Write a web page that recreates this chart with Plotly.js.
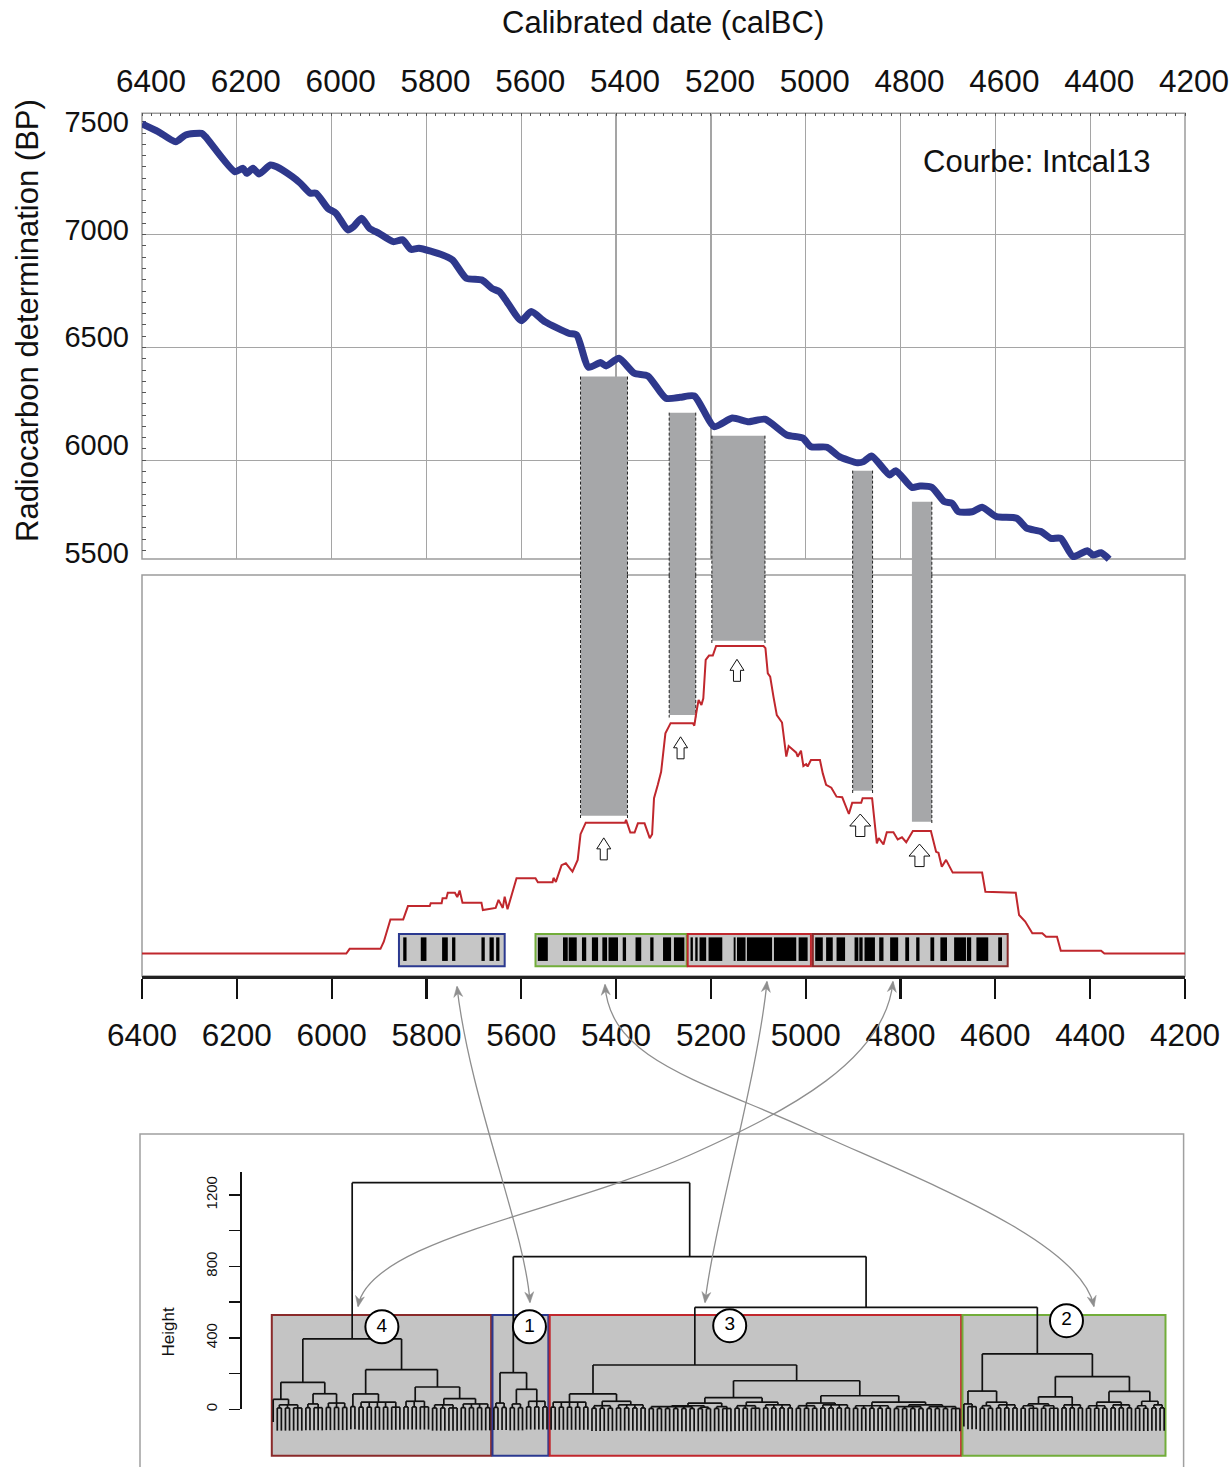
<!DOCTYPE html>
<html><head><meta charset="utf-8">
<script src="https://cdn.plot.ly/plotly-3.0.1.min.js"></script>
<style>html,body{margin:0;padding:0;background:#fff}#chart{width:1232px;height:1467px}</style>
</head><body><div id="chart"></div>
<script>
// ---------------- DATA ----------------
// Calibration curve IntCal13 (calBC year, 14C BP)
const calYear = [6400,6366,6329,6308,6274,6266,6204,6187,6179,6166,6153,6129,6116,6083,6066,6045,6033,6008,5991,5966,5954,5937,5920,5900,5870,5850,5833,5816,5766,5745,5716,5683,5662,5646,5633,5600,5579,5550,5500,5483,5458,5433,5421,5394,5362,5333,5295,5265,5235,5193,5155,5120,5086,5040,5006,4989,4955,4929,4891,4878,4861,4823,4810,4776,4759,4734,4708,4691,4678,4649,4628,4598,4555,4534,4504,4483,4462,4436,4406,4394,4377,4360];
const calBP = [7491,7457,7412,7442,7449,7434,7279,7294,7272,7294,7269,7309,7301,7257,7228,7184,7184,7117,7095,7021,7035,7073,7028,7006,6969,6977,6935,6940,6910,6888,6807,6799,6762,6747,6711,6619,6659,6614,6563,6555,6412,6433,6418,6452,6386,6374,6275,6279,6285,6149,6187,6171,6182,6112,6098,6060,6058,6016,5989,5994,6019,5935,5954,5880,5886,5880,5817,5809,5772,5772,5792,5750,5743,5699,5684,5654,5654,5573,5599,5580,5590,5561];

// Summed probability (relative units)
const densYear = [6400,5969,5962,5897,5890,5876,5849,5839,5793,5791,5768,5766,5758,5755,5740,5735,5730,5724,5684,5681,5654,5648,5639,5635,5629,5610,5570,5565,5534,5532,5527,5515,5506,5492,5481,5475,5464,5381,5379,5370,5361,5354,5340,5329,5324,5320,5312,5305,5296,5285,5238,5235,5231,5226,5220,5216,5211,5204,5196,5189,5089,5085,5080,5075,5068,5061,5050,5041,5036,5027,5020,5017,5010,5005,4999,4996,4989,4970,4964,4957,4946,4935,4923,4909,4902,4883,4880,4860,4850,4846,4836,4829,4815,4806,4797,4788,4774,4736,4725,4720,4713,4704,4690,4628,4621,4557,4550,4537,4522,4501,4493,4470,4462,4377,4370,4200];
const densValue = [0,0,15,15,38,110,110,153,153,162,162,178,178,196,196,182,203,164,164,140,147,173,147,183,143,243,243,230,230,244,231,285,291,264,302,385,422,422,431,390,390,420,420,372,385,501,544,586,710,743,743,735,775,818,802,823,947,961,961,992,992,985,904,893,828,769,745,635,669,656,648,635,654,605,611,603,624,624,581,544,535,506,504,450,486,486,501,501,355,372,352,391,391,368,375,359,395,395,328,325,280,302,261,261,199,196,124,103,65,65,54,54,9,9,0,0];

// Plateaux (grey bands): calBC start/end, top on curve (BP), bottom on density
const barStart = [5475,5288,5198,4901,4776];
const barEnd = [5376,5232,5086,4859,4734];
const barTopBP = [6371,6211,6109,5954,5816];
const barBottom = [444,769,1009,525,425];
const barDashLeft = [true,true,true,true,false];

// Up arrows under plateaux
const arrowYear = [5426,5264,5145,4885,4760];
const arrowTip = [373,699,949,450,353];
const arrowBig = [false,false,false,true,true];

// Cluster boxes (calBC)
const clusterNames = ['1','2','3','4'];
const boxStart = [5858,5570,5249,4985];
const boxEnd = [5635,5251,4989,4574];
const boxColor = ['#2b3990','#72ad3a','#c1272d','#8a2a2a'];
// Individual date ranges in each cluster (calBC start, end)
const dates1 = [[5849,5842],[5812,5800],[5767,5755],[5746,5739],[5684,5677],[5667,5658],[5653,5646]];
const dates2 = [[5565,5544],[5512,5502],[5500,5483],[5472,5463],[5451,5438],[5429,5419],[5416,5396],[5386,5379],[5359,5347],[5328,5321],[5301,5284],[5278,5256]];
const dates3 = [[5243,5238],[5233,5228],[5224,5210],[5205,5176],[5152,5148],[5145,5127],[5124,5071],[5067,5020],[5015,4996]];
const dates4 = [[4980,4964],[4957,4943],[4935,4917],[4897,4889],[4887,4880],[4876,4854],[4845,4836],[4822,4805],[4790,4782],[4767,4760],[4737,4729],[4716,4702],[4687,4662],[4660,4651],[4640,4615],[4594,4586]];

// Dendrogram: nodes {h, c:[...]} ; leaf groups {n, h}
const C = (n,h) => ({n:n, h:h});
const N = (h, ...c) => ({h:h, c:c});
const dendCluster4 = N(394, N(151, N(56, C(1,0), C(7,25)), N(87, C(5,30), C(6,35))), N(222, N(86, C(2,15), C(11,40)), N(125, C(7,45), N(60, C(7,25), C(8,30)))));
const dendCluster1 = N(205, C(4,35), N(112, C(4,30), C(6,45)));
const dendCluster3 = N(248, N(86, C(10,40), N(45, C(6,20), C(8,25))), N(160, N(65, N(35, N(20, C(12,15), C(4,12)), C(5,15)), N(40, C(7,20), C(8,25))), N(76, N(35, C(6,20), C(8,25)), N(40, C(10,20), N(25, C(8,15), C(9,15))))));
const dendCluster2 = N(310, N(102, N(30, C(1,0), C(3,15)), N(40, C(4,20), C(6,25))), N(183, N(70, N(30, C(5,20), C(5,20)), C(6,25)), N(100, N(40, C(6,20), C(6,25)), N(45, C(4,20), C(4,25)))));
const dendTree = N(1269, dendCluster4, N(855, dendCluster1, N(571, dendCluster3, dendCluster2)));
const dendOrderLabels = ['4','1','3','2'];
const dendOrderSizes = [54,14,101,50];
const dendOrderColors = ['#8a2a2a','#2b3990','#c1272d','#72ad3a'];
const dendRectTop = 528, dendRectBottom = -260;
const dendLabelX = [27.6, 63.7, 112.7, 195.1];
const dendLabelY = [462, 462, 468, 496];
const heightTicks = [0,200,400,600,800,1000,1200];
const heightTickText = ['0','','400','','800','','1200'];
const dateTicks = [6400,6200,6000,5800,5600,5400,5200,5000,4800,4600,4400,4200];
const bpTicks = [5500,6000,6500,7000,7500];

// ---------------- GEOMETRY ----------------
const W = 1232, H = 1467;
const fx = p => p / W, fy = p => 1 - p / H;
const FONT = 'Liberation Sans, Arial, Helvetica, sans-serif';
const PXBP = 0.2256, TOPBP = 7538;
const yGridBot = TOPBP - (559 - 113.3) / PXBP;
const y4Bot = TOPBP - (575 - 113.3) / PXBP;
const Y2BOT = -72.6, Y2TOP = 1221;
const leafPx = 4.087, leafPx0 = 271.8;
const idx = p => (p - leafPx0) / leafPx + 0.66;
const PXH = 0.17858, H0PX = 1409.3;
const hAt = p => (H0PX - p) / PXH;

const traces = [];
const dummy = (xa, ya, x, y) => ({type:'scatter', x:[x], y:[y], xaxis:xa, yaxis:ya, mode:'markers', marker:{opacity:0,size:1}, hoverinfo:'skip', showlegend:false});
traces.push(dummy('x','y',5000,6500));
traces.push(dummy('x','y3',5000,6500));
traces.push(dummy('x5','y6',100,100));

// grey bars: top piece (curve axis) and bottom piece (density axis)
const mid = barStart.map((s,i)=>(s+barEnd[i])/2);
const wid = barStart.map((s,i)=>s-barEnd[i]);
traces.push({type:'bar', xaxis:'x4', yaxis:'y4', x:mid, width:wid, base:barTopBP.map(()=>y4Bot), y:barTopBP.map(t=>t-y4Bot), marker:{color:'#a6a7a9', line:{width:0}}, hoverinfo:'skip', showlegend:false});
traces.push({type:'bar', xaxis:'x2', yaxis:'y2', x:mid, width:wid, base:barBottom, y:barBottom.map(b=>Y2TOP-b), marker:{color:'#a6a7a9', line:{width:0}}, hoverinfo:'skip', showlegend:false});
// dashed edges
const dxT=[],dyT=[],dxB=[],dyB=[];
barStart.forEach((s,i)=>{
  const edges = barDashLeft[i] ? [s, barEnd[i]] : [barEnd[i]];
  edges.forEach(e=>{ dxT.push(e,e,null); dyT.push(barTopBP[i],y4Bot,null); dxB.push(e,e,null); dyB.push(Y2TOP,barBottom[i]-8,null); });
});
traces.push({type:'scatter', mode:'lines', xaxis:'x4', yaxis:'y4', x:dxT, y:dyT, line:{color:'#222', width:1, dash:'3px,2px'}, hoverinfo:'skip', showlegend:false});
traces.push({type:'scatter', mode:'lines', xaxis:'x2', yaxis:'y2', x:dxB, y:dyB, line:{color:'#222', width:1, dash:'3px,2px'}, hoverinfo:'skip', showlegend:false});

// calibration curve
traces.push({type:'scatter', mode:'lines', xaxis:'x4', yaxis:'y4', x:calYear, y:calBP, line:{color:'#2e388c', width:7, shape:'spline', smoothing:0.6}, hoverinfo:'skip', showlegend:false});

// cluster boxes + dates
traces.push({type:'bar', xaxis:'x2', yaxis:'y2', x:boxStart.map((s,i)=>(s+boxEnd[i])/2), width:boxStart.map((s,i)=>s-boxEnd[i]), base:boxStart.map(()=>-41), y:boxStart.map(()=>104), marker:{color:'#c6c6c6', line:{color:boxColor, width:2}}, hoverinfo:'skip', showlegend:false});
const allDates = [].concat(dates1, dates2, dates3, dates4);
traces.push({type:'bar', xaxis:'x2', yaxis:'y2', x:allDates.map(d=>(d[0]+d[1])/2), width:allDates.map(d=>d[0]-d[1]), base:allDates.map(()=>-24), y:allDates.map(()=>76), marker:{color:'#000', line:{width:0}}, hoverinfo:'skip', showlegend:false});

// density curve
traces.push({type:'scatter', mode:'lines', xaxis:'x2', yaxis:'y2', x:densYear, y:densValue, line:{color:'#c0272d', width:2}, hoverinfo:'skip', showlegend:false});

// dendrogram
const HANG = 127;
let leafNo = 0;
const segX = [], segY = [];
function seg(x0,y0,x1,y1){ segX.push(x0,x1,null); segY.push(y0,y1,null); }
function join(h, kids){
  kids.forEach(k => seg(k.x, h, k.x, k.leaf ? h - HANG : k.h));
  seg(kids[0].x, h, kids[kids.length-1].x, h);
  return {x:(kids[0].x + kids[kids.length-1].x)/2, h:h};
}
function render(node){
  if (node.n !== undefined) {
    if (node.n === 1) { leafNo++; return {x:leafNo, leaf:true}; }
    const kids = [];
    if (node.n <= 3) { for (let i=0;i<node.n;i++){ leafNo++; kids.push({x:leafNo, leaf:true}); } }
    else { const hp = Math.max(4, node.h*0.3); let rem = node.n; while (rem > 0) { const k = rem === 3 ? 3 : 2; kids.push(render(C(k, hp))); rem -= k; } }
    return join(node.h, kids);
  }
  return join(node.h, node.c.map(render));
}
render(dendTree);
// cluster rectangles
let cum = 0; const rx=[], rw=[];
dendOrderSizes.forEach(n=>{ const l = cum + 0.66, r = cum + n + 0.33; rx.push((l+r)/2); rw.push(r-l); cum += n; });
traces.push({type:'bar', xaxis:'x5', yaxis:'y5', x:rx, width:rw, base:rx.map(()=>dendRectBottom), y:rx.map(()=>dendRectTop-dendRectBottom), marker:{color:'#c4c4c4', line:{color:dendOrderColors, width:2}}, hoverinfo:'skip', showlegend:false});
traces.push({type:'scatter', mode:'lines', xaxis:'x5', yaxis:'y5', x:segX, y:segY, line:{color:'#111', width:1.7}, hoverinfo:'skip', showlegend:false});
traces.push({type:'scatter', mode:'markers+text', xaxis:'x5', yaxis:'y5', x:dendLabelX, y:dendLabelY, text:dendOrderLabels, textposition:'middle center', textfont:{family:FONT, size:19, color:'#000'}, marker:{size:33, color:'#fff', line:{color:'#000', width:2}}, hoverinfo:'skip', showlegend:false});

// ---------------- SHAPES ----------------
const shapes = [];
shapes.push({type:'rect', xref:'paper', yref:'paper', x0:fx(142), x1:fx(1185), y0:fy(559), y1:fy(113.3), line:{color:'#9c9c9c', width:1.5}, layer:'below'});
shapes.push({type:'rect', xref:'paper', yref:'paper', x0:fx(142), x1:fx(1185), y0:fy(976), y1:fy(575), line:{color:'#9c9c9c', width:1.5}, layer:'below'});
shapes.push({type:'rect', xref:'paper', yref:'paper', x0:fx(140), x1:fx(1183.6), y0:fy(1480), y1:fy(1134), line:{color:'#a0a0a0', width:1.5}, layer:'below'});
// block arrows
arrowYear.forEach((yr,i)=>{
  const big = arrowBig[i];
  const hw = big ? 10.5 : 7, hh = big ? 12 : 11, sw = big ? 4.6 : 3.5, tl = big ? 22.5 : 22;
  shapes.push({type:'path', xref:'x2', yref:'y2', xsizemode:'pixel', ysizemode:'pixel', xanchor:yr, yanchor:arrowTip[i],
    path:`M0,0 L${hw},-${hh} L${sw},-${hh} L${sw},-${tl} L-${sw},-${tl} L-${sw},-${hh} L-${hw},-${hh} Z`,
    fillcolor:'#fff', line:{color:'#111', width:1}});
});
// grey connectors between panels (pixel geometry)
const P = (x,y) => `${fx(x).toFixed(5)},${fy(y).toFixed(5)}`;
function head(tx,ty,ox,oy){
  const dx=tx-ox, dy=ty-oy, L=Math.hypot(dx,dy), ux=dx/L, uy=dy/L, nx=-uy, ny=ux;
  const len=11, hw=4.5, back=7.5;
  return `M${P(tx,ty)} L${P(tx-ux*len+nx*hw, ty-uy*len+ny*hw)} L${P(tx-ux*back, ty-uy*back)} L${P(tx-ux*len-nx*hw, ty-uy*len-ny*hw)} Z`;
}
const conn = [
  {d:`M${P(457,987)} C${P(470,1100)} ${P(525,1230)} ${P(530,1302)}`, a:[457,986,470,1100], b:[530,1303,525,1230]},
  {d:`M${P(605,985)} C${P(610,1060)} ${P(700,1080)} ${P(810,1130)} C${P(920,1180)} ${P(1080,1240)} ${P(1094,1306)}`, a:[605,984,610,1060], b:[1094,1307,1080,1240]},
  {d:`M${P(767,982)} C${P(757,1080)} ${P(715,1220)} ${P(705,1302)}`, a:[767,981,757,1080], b:[705,1303,715,1220]},
  {d:`M${P(893,982)} C${P(885,1060)} ${P(790,1110)} ${P(690,1155)} C${P(560,1213)} ${P(370,1240)} ${P(358,1306)}`, a:[893,981,885,1060], b:[358,1307,370,1240]}
];
conn.forEach(c=>{
  shapes.push({type:'path', xref:'paper', yref:'paper', path:c.d, line:{color:'#8e8e8e', width:1.3}});
  shapes.push({type:'path', xref:'paper', yref:'paper', path:head(...c.a), fillcolor:'#8e8e8e', line:{color:'#8e8e8e', width:0.5}});
  shapes.push({type:'path', xref:'paper', yref:'paper', path:head(...c.b), fillcolor:'#8e8e8e', line:{color:'#8e8e8e', width:0.5}});
});

// ---------------- LAYOUT ----------------
const xDom = [fx(142), fx(1185)];
const layout = {
  width:W, height:H, margin:{l:0,r:0,t:0,b:0,pad:0},
  paper_bgcolor:'#fff', plot_bgcolor:'rgba(0,0,0,0)',
  showlegend:false, hovermode:false, barmode:'overlay',
  font:{family:FONT, color:'#111'},
  xaxis:{domain:xDom, range:[6400,4200], side:'top', anchor:'y', tickmode:'array', tickvals:dateTicks, ticks:'',
    showgrid:true, gridcolor:'#a5a5a5', gridwidth:1.2, zeroline:false, showline:false,
    tickfont:{family:FONT, size:31.5, color:'#111'}, ticklabelshift:-9, ticklabelstandoff:14,
    minor:{tickmode:'linear', tick0:4200, dtick:20, ticks:'inside', ticklen:3, tickwidth:1, tickcolor:'#555', showgrid:false}},
  yaxis:{domain:[fy(559), fy(113.3)], range:[yGridBot, TOPBP], anchor:'x', tickmode:'array', tickvals:[6000,6500,7000],
    showticklabels:false, ticks:'', showgrid:true, gridcolor:'#a5a5a5', gridwidth:1.2, zeroline:false, showline:false,
    minor:{tickmode:'linear', tick0:0, dtick:50, ticks:'inside', ticklen:4, tickwidth:1, tickcolor:'#555', showgrid:false}},
  yaxis3:{overlaying:'y', anchor:'x', side:'left', range:[5469.8, 7539], tickmode:'array', tickvals:bpTicks, ticks:'',
    showgrid:false, zeroline:false, showline:false, tickfont:{family:FONT, size:29, color:'#111'}, ticklabelstandoff:12},
  xaxis2:{domain:xDom, range:[6400,4200], anchor:'y2', side:'bottom', tickmode:'array', tickvals:dateTicks, ticks:'outside',
    ticklen:20, tickwidth:2.2, tickcolor:'#111', showline:true, linecolor:'#222', linewidth:2.5, showgrid:false, zeroline:false,
    tickfont:{family:FONT, size:31.5, color:'#111'}, ticklabelstandoff:10},
  yaxis2:{domain:[fy(976), fy(575)], range:[Y2BOT, Y2TOP], anchor:'x2', visible:false},
  xaxis4:{domain:xDom, range:[6400,4200], anchor:'y4', visible:false},
  yaxis4:{domain:[fy(575), fy(113.3)], range:[y4Bot, TOPBP], anchor:'x4', visible:false},
  xaxis5:{domain:[fx(140), fx(1183.6)], range:[idx(140), idx(1183.6)], anchor:'y5', visible:false},
  yaxis5:{domain:[0, fy(1134)], range:[hAt(1467), hAt(1134)], anchor:'x5', visible:false},
  yaxis6:{domain:[fy(1409.3), fy(1171.7)], range:[0, hAt(1171.7)], anchor:'free', position:fx(240), side:'left',
    tickmode:'array', tickvals:heightTicks, ticktext:heightTickText, ticks:'outside', ticklen:11, tickwidth:1.5, tickcolor:'#111',
    showline:true, linecolor:'#111', linewidth:1.5, showgrid:false, zeroline:false, tickangle:-90,
    tickfont:{family:FONT, size:15, color:'#111'}, ticklabelstandoff:6},
  shapes:shapes,
  annotations:[
    {text:'Calibrated date (calBC)', xref:'paper', yref:'paper', x:fx(663), y:fy(22), xanchor:'center', yanchor:'middle', showarrow:false, font:{family:FONT, size:31, color:'#111'}},
    {text:'Radiocarbon determination (BP)', xref:'paper', yref:'paper', x:fx(27), y:fy(321), xanchor:'center', yanchor:'middle', textangle:-90, showarrow:false, font:{family:FONT, size:31, color:'#111'}},
    {text:'Courbe: Intcal13', xref:'paper', yref:'paper', x:fx(921), y:fy(161), xanchor:'left', yanchor:'middle', showarrow:false, font:{family:FONT, size:31, color:'#111'}},
    {text:'Height', xref:'paper', yref:'paper', x:fx(167.5), y:fy(1332), xanchor:'center', yanchor:'middle', textangle:-90, showarrow:false, font:{family:FONT, size:17, color:'#111'}}
  ]
};
Plotly.newPlot('chart', traces, layout, {staticPlot:true, displayModeBar:false});
</script></body></html>
